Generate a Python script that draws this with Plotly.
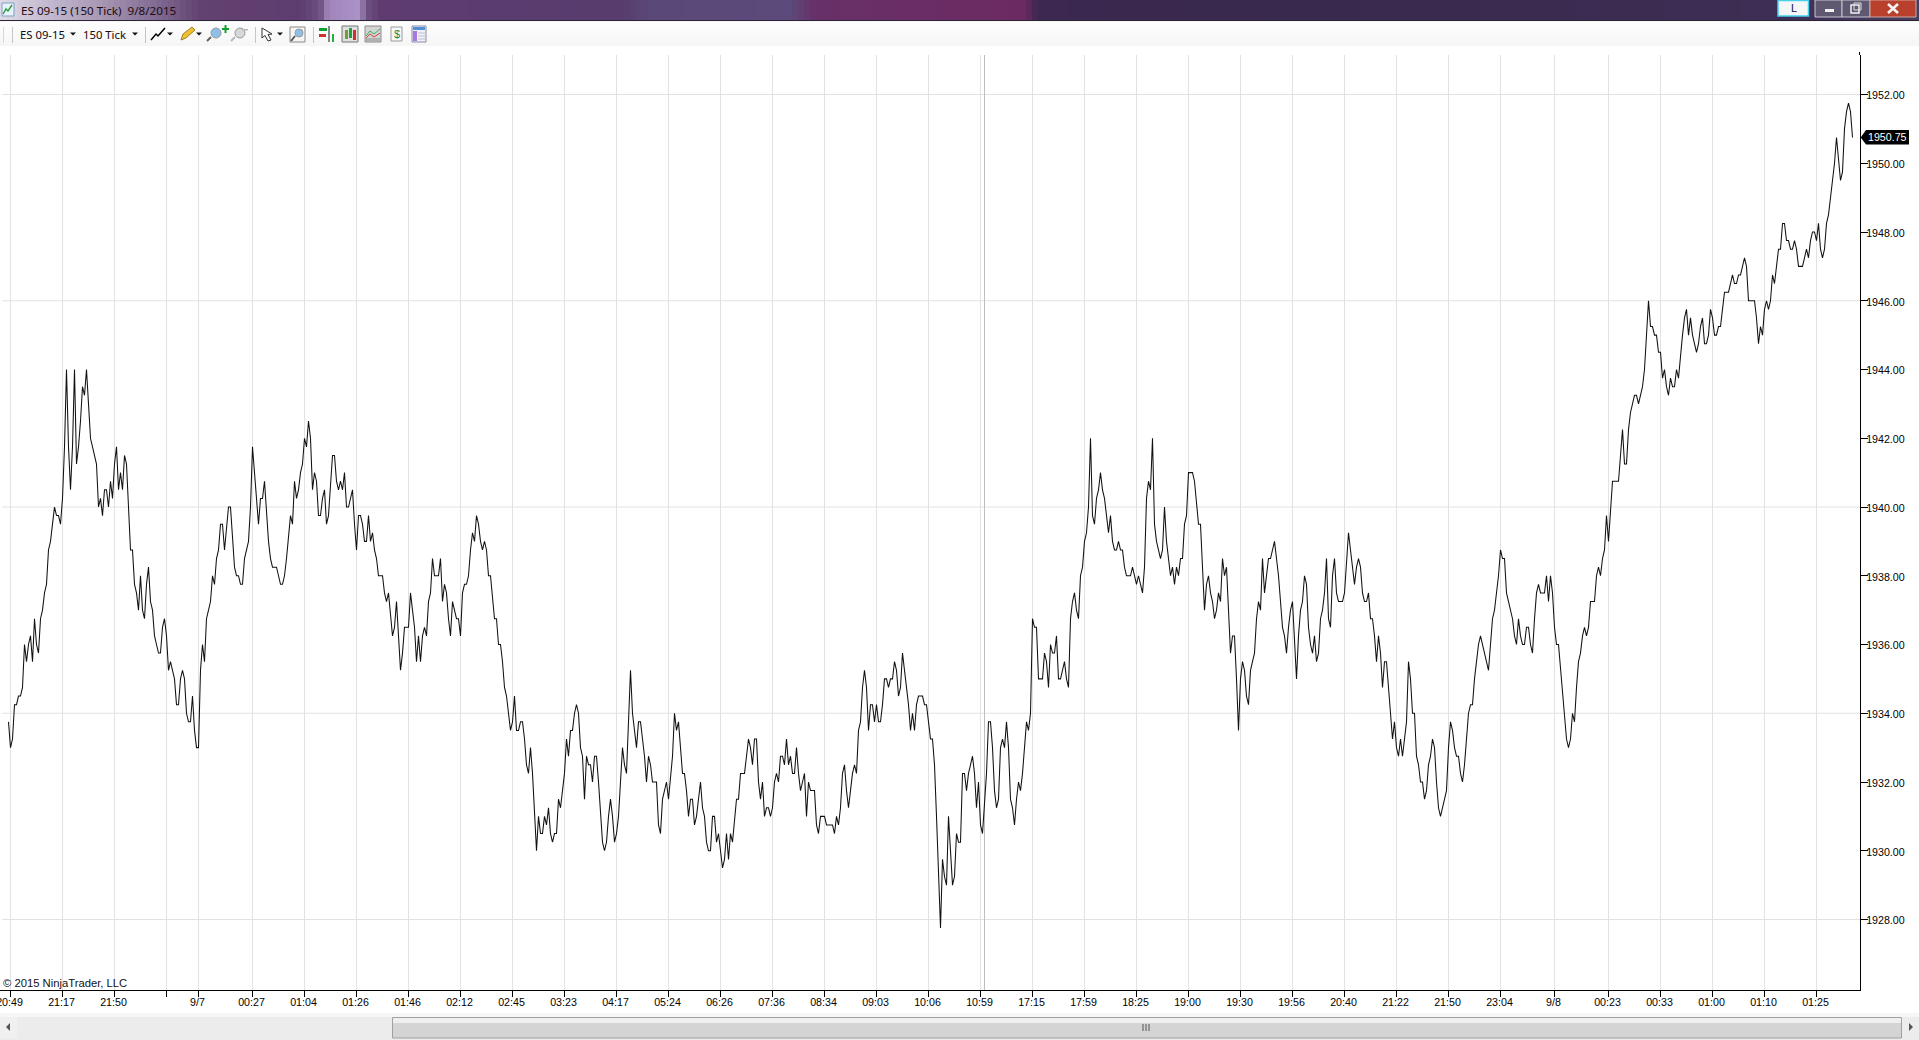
import plotly.graph_objects as go

# ---- Data (ES 09-15, 150 tick closes) ----
INSTRUMENT = "ES 09-15"
PERIOD = "150 Tick"
WINDOW_TITLE = "ES 09-15 (150 Tick)  9/8/2015"
COPYRIGHT = "© 2015 NinjaTrader, LLC"
LAST_PRICE = 1950.75

close_a = [
 1933.75,1933,1933.25,1934.25,1934.25,1934.5,1934.5,1934.75,1936,1935.5,1936,1936.25,1935.5,1936.75,1936,1935.75,
 1936.75,1937,1937.5,1937.75,1938.75,1939,1939.5,1940,1939.75,1939.75,1939.5,1940.25,1941.75,1944,1941.75,1940.5,
 1941.75,1944,1941.25,1941.75,1942.5,1943.5,1943.25,1944,1943,1942,1941.75,1941.5,1941.25,1940,1940.25,1939.75,
 1940.5,1940.5,1940,1940.75,1940.25,1941.25,1941.75,1940.5,1941,1940.5,1941.5,1941.25,1940,1938.75,1938.75,1937.75,
 1937.5,1937,1938,1937,1936.75,1937.75,1938.25,1937.25,1937,1936.25,1936,1935.75,1935.75,1936.5,1936.75,1936.25,
 1935.25,1935.5,1935.25,1935,1934.25,1934.25,1935,1935.25,1935,1934,1933.75,1933.75,1934.5,1933.5,1933,1933,
 1935.25,1936,1935.5,1936.75,1937,1937.25,1938,1937.75,1938.5,1938.75,1939.5,1939.5,1938.75,1939.5,1940,1940,
 1939.25,1938.25,1938,1938,1937.75,1937.75,1938.5,1938.75,1939,1940,1941.75,1941,1940.25,1939.5,1940.25,1940.25,
 1940.75,1939.75,1939,1938.5,1938.25,1938.25,1938.25,1938,1937.75,1937.75,1938,1938.5,1939.25,1939.75,1939.5,1940.75,
 1940.25,1940.5,1941,1941.25,1942,1941.75,1942.5,1942,1940.5,1941,1940.75,1939.75,1939.75,1940.25,1940.5,1939.5,
 1939.75,1940.75,1941.5,1941.5,1940.75,1940.5,1940.75,1940.5,1941,1940,1940,1940.25,1940.5,1939.5,1938.75,1939.75,
 1939.75,1939.5,1939,1939,1939.75,1939,1939.25,1938.75,1938.5,1938,1938,
]
close_b = [
 1938,1937.5,1937.25,1937.5,1936.75,1936.25,1936.5,1937.25,1936.25,1935.25,1935.75,1936.5,1936.5,1936.5,1937.5,1937,
 1936.5,1935.5,1936.25,1935.5,1936.25,1936.5,1936.25,1937.25,1937.5,1938.5,1938,1938,1938,1938.5,1937.25,1937.75,
 1937.5,1936.75,1936.25,1937.25,1937,1936.75,1936.75,1936.25,1937.5,1937.75,1937.75,1938,1938.75,1939.25,1939,1939.75,
 1939.5,1939,1938.75,1939,1938.75,1938,1938,1937.25,1936.75,1936.75,1936,1936,1935.5,1934.75,1934.5,1934,
 1933.5,1933.75,1934.5,1933.5,1933.5,1933.75,1933.75,1933.25,1932.5,1932.25,1933,1932.25,1931,1930,1931,1930.5,
 1930.5,1931,1930.75,1931.25,1930.5,1930.25,1930.5,1930.5,1931.5,1931.25,1931.75,1932.25,1933.25,1932.75,1933.5,1933.5,
 1934,1934.25,1934,1933,1932.75,1931.5,1932.75,1932.5,1932.5,1932,1932.75,1932.75,1932,1931,1930.25,1930,
 1930.25,1931,1931.5,1931,1930.25,1930.5,1931,1932,1933,1932.5,1932.25,1933.75,1935.25,1934,1933.5,1933,
 1933.75,1933.75,1933.25,1932.75,1932,1932.75,1932.5,1932,1932,1932,1930.75,1930.5,1931.5,1931.75,1932,1931.5,
 1932.25,1932.75,1934,1933.5,1933.75,1933,1932.25,1932.25,1931.75,1931,1931.5,1931.5,1930.75,1931,1931.5,1932,
 1931.25,1931,1930.25,1930,1930,1931,1931,1930.25,1930.5,1930,1929.5,1929.75,1930.5,1929.75,1930.5,1930.25,
 1931,1931.5,1931.5,1932.25,1932.25,1932.25,1932.75,1933.25,1933,1932.5,1933.25,1933.25,1932,
]
close_c = [
 1931.5,1932,1931,1931.25,1931.25,1931,1931.25,1932,1932.25,1932,1932.75,1932.75,1932.5,1933.25,1932.5,1932.75,
 1932.25,1932.25,1933,1932.25,1931.75,1932,1932.25,1931,1932,1931.75,1931.75,1931.75,1930.75,1930.5,1931,1931,
 1931,1930.75,1930.75,1930.75,1930.75,1930.5,1931,1930.75,1931.25,1932.25,1932.5,1931.75,1931.25,1931.75,1932.25,1932.5,
 1932.25,1933.5,1933.75,1934.75,1935.25,1934.75,1933.5,1934.25,1934.25,1933.75,1934.25,1933.75,1933.75,1934.25,1935,1935,
 1934.75,1935,1935,1935.5,1935.25,1934.5,1934.75,1935.75,1935.25,1934.75,1934.25,1933.5,1934,1933.5,1934.25,1934.5,
 1934.5,1934.5,1934.25,1934.25,1933.75,1933.25,1933.25,1932.5,1931,1929.25,1927.75,1929.75,1929.25,1929,1931,1930,
 1929,1929.25,1930.5,1930.25,1930.25,1932.25,1932.25,1931.75,1932.25,1932.5,1932.75,1932.25,1931.25,1932,1930.75,1930.5,
 1931.25,1932.25,1933.75,1933.75,1933,1931.75,1931.25,1931.5,1933,1933.25,1933,1933.75,1933,1931.5,1931.25,1930.75,
 1931.5,1932,1931.75,1932.25,1933,1933.75,1933.5,1934,1936.75,1936.5,1936.5,1935,1935,1935,1935.75,1935.5,
 1934.75,1936,1935.75,1935.75,1936.25,1935,1935,1935.25,1935.5,1935,1934.75,1936.75,
]
close_d = [
 1937.25,1937.5,1937,1936.75,1938,1938.25,1939,1939.25,1940,1942,1939.75,1939.5,1940.25,1940.5,1941,1940.5,
 1940.25,1939.75,1939.25,1939.75,1939,1938.75,1938.75,1939,1938.75,1938.75,1938.25,1938,1938,1938,1938.25,1938,
 1937.75,1938,1937.75,1937.5,1938.25,1940.25,1940.75,1940.5,1942,1939.5,1939,1938.75,1938.5,1938.75,1940,1939,
 1938.5,1938,1938.25,1937.75,1938.25,1938,1938.5,1938.5,1939.5,1939.75,1941,1941,1941,1940.75,1940,1939.5,
 1939.5,1938.25,1937,1937.75,1938,1937.5,1937.25,1936.75,1937,1937.5,1937.25,1938.5,1938,1938.25,1936.75,1935.75,
 1936.25,1936.25,1935,1933.5,1935,1935.5,1935.25,1934.5,1934.25,1935.25,1935.5,1935.75,1936.75,1937.25,1937,1938.5,
 1937.5,1938,1938.5,1938.5,1938.75,1939,1938.5,1938,1937.25,1936.5,1936.25,1935.75,1936.5,1937,1937.25,1936.25,
 1935,1936.25,1937,1937.25,1938,1937.75,1936.5,1936,1935.75,1936.25,1935.5,1935.75,1936.75,1937,1937.5,1938.5,
 1936.75,1936.5,1938,1938.5,1937.5,1937.25,1937.25,1937.25,1937.5,1938.5,1939.25,1938.75,1938.25,1937.75,1938.25,1938.5,
 1938.25,1937.5,1937.25,1937.25,1937.5,1936.75,1936.75,1936.25,1935.5,1936.25,1935.75,1934.75,1935.5,1935.5,1934.75,1934,
 1933.25,1933.75,1933,1932.75,1933.25,1932.75,1933.25,1933.75,1935.5,1935,1934,1934,1932.75,1932.5,1932,1932,
 1931.5,1931.75,1932.5,1932.75,1933.25,1933,1932,1931.25,1931,1931.25,1931.5,1931.75,1933,1933.75,1933.5,1933,
 1932.75,1932.75,
]
close_e = [
 1932.25,1932,1932.5,1933.25,1934,1934.25,1934.25,1935,1935.5,1936,1936.25,1936,1935.75,1935.5,1935.25,1936,
 1936.75,1937,1937.5,1938,1938.75,1938.5,1938.5,1937.5,1937.25,1937,1936.75,1936.25,1936,1936.75,1936.25,1936,
 1936,1936.5,1936.5,1936,1935.75,1936.75,1937.5,1937.75,1937.5,1937.5,1937.5,1938,1937.25,1938,1937.5,1936.5,
 1936,1936,1935.25,1934.5,1934,1933.25,1933,1933.25,1934,1933.75,1934.75,1935.5,1935.75,1936.25,1936.5,1936.25,
 1936.5,1937.25,1937.25,1937.25,1938,1938.25,1938,1938.5,1938.75,1939.75,1939,
]
close_f = [
 1939.75,1940.75,1940.75,1940.75,1940.75,1941.5,1942.25,1941.25,1941.25,1942.25,1942.75,1943,1943.25,1943.25,1943,1943.25,
 1943.5,1944,1945,1946,1945.25,1945.25,1945,1945,1944.5,1944.5,1943.75,1944,1943.5,1943.25,1943.75,1943.5,
 1943.5,1944,1943.75,1944.5,1945,1945.5,1945.75,1945,1945.5,1945,1944.75,1944.5,1944.75,1945.25,1945.5,1944.75,
 1944.75,1945,1945.75,1945.5,1945,1945,1945.25,1945.25,1945.75,1946.25,1946.25,1946.25,1946.5,1946.75,1946.5,1946.5,
 1946.75,1946.75,1947,1947.25,1947,1946,1946,1946,1946,1945.5,1944.75,1945.25,1945,1945.75,1946,1945.75,
 1946,1946.75,1946.5,1947,1947.5,1947.5,1948.25,1948.25,1947.75,1947.75,1947.5,1947.5,1947.75,1947.5,1947,1947,
 1947,1947.25,1947.5,1947.25,1947.75,1948,1948,1947.75,1948.25,1947.5,1947.25,1947.5,1948.25,1948.5,1949,1949.5,
 1950,1950.75,1950,1949.5,1949.75,1951,1951.5,1951.75,1951.5,1950.75,
]

tick_bars = [1,27,53,79,95,122,148,174,200,226,252,278,304,330,356,382,408,434,460,486,512,538,564,590,616,642,668,694,
             720,746,773,800,826,852,878,904]
tick_labels = ["20:49","21:17","21:50","","9/7","00:27","01:04","01:26","01:46","02:12","02:45","03:23","04:17","05:24",
               "06:26","07:36","08:34","09:03","10:06","10:59","17:15","17:59","18:25","19:00","19:30","19:56","20:40",
               "21:22","21:50","23:04","9/8","00:23","00:33","01:00","01:10","01:25"]
price_ticks = [1928,1930,1932,1934,1936,1938,1940,1942,1944,1946,1948,1950,1952]
price_grid = [1928,1934,1940,1946,1952]
cursor_bar = 488

close = close_a + close_b + close_c + close_d + close_e + close_f
bars = list(range(len(close)))

# ---- Page geometry helpers (window chrome only) ----
W, H = 1919, 1040
L, R, T, B = 0, 1860, 55, 990
def X(px): return (px - L) / (R - L)
def Y(py): return (B - py) / (B - T)

shapes, ann = [], []
def rect(x0, y0, x1, y1, fill, line=None, lw=1):
    shapes.append(dict(type="rect", xref="paper", yref="paper", x0=X(x0), y0=Y(y0), x1=X(x1), y1=Y(y1),
                       fillcolor=fill, line=dict(color=line or "rgba(0,0,0,0)", width=lw if line else 0), layer="above"))
def seg(x0, y0, x1, y1, color, w=1, layer="above"):
    shapes.append(dict(type="line", xref="paper", yref="paper", x0=X(x0), y0=Y(y0), x1=X(x1), y1=Y(y1),
                       line=dict(color=color, width=w), layer=layer))
def path(points, fill=None, line=None, lw=1, close_it=True):
    d = "M " + " L ".join(f"{X(a):.5f},{Y(b):.5f}" for a, b in points) + (" Z" if close_it else "")
    shapes.append(dict(type="path", xref="paper", yref="paper", path=d, fillcolor=fill or "rgba(0,0,0,0)",
                       line=dict(color=line or "rgba(0,0,0,0)", width=lw if line else 0), layer="above"))
def circle(x0, y0, x1, y1, fill, line=None, lw=1):
    shapes.append(dict(type="circle", xref="paper", yref="paper", x0=X(x0), y0=Y(y0), x1=X(x1), y1=Y(y1),
                       fillcolor=fill, line=dict(color=line or "rgba(0,0,0,0)", width=lw if line else 0), layer="above"))
def text(px, py, s, size=10.67, color="#111", anchor="left", family="Liberation Sans", **kw):
    ann.append(dict(xref="paper", yref="paper", x=X(px), y=Y(py), text=s, showarrow=False, xanchor=anchor,
                    yanchor="middle", font=dict(family=family, size=size, color=color), borderpad=0, borderwidth=0, **kw))
def caret(cx, cy):
    path([(cx-3, cy-1.5), (cx+3, cy-1.5), (cx, cy+1.5)], fill="#111")

# Price gridlines (every third labelled price)
for p in price_grid:
    shapes.append(dict(type="line", xref="paper", yref="y", x0=X(2), x1=1, y0=p, y1=p,
                       line=dict(color="#e2e2e2", width=1), layer="below"))
# vertical cursor line
shapes.append(dict(type="line", xref="x", yref="paper", x0=cursor_bar, x1=cursor_bar, y0=0, y1=1,
                   line=dict(color="#bdbdbd", width=1), layer="below"))

# Title bar: soft patches of Aero glass colour, stepped across the width
stops = [(0,(222,218,230)),(40,(200,190,212)),(100,(168,152,180)),(160,(126,104,144)),(200,(98,66,112)),
         (300,(94,60,112)),(320,(110,80,130)),(328,(160,132,186)),(358,(170,146,198)),(368,(110,80,130)),
         (380,(94,60,114)),(620,(88,60,110)),(650,(90,72,120)),(790,(92,74,124)),(815,(104,48,104)),
         (1025,(108,42,98)),(1038,(60,40,80)),(1300,(56,41,78)),(1780,(60,46,84)),(1919,(72,62,96))]
def mix(px):
    for (a, ca), (b, cb) in zip(stops, stops[1:]):
        if a <= px <= b:
            t = (px - a) / (b - a)
            return "rgb(%d,%d,%d)" % tuple(round(u + (v - u) * t) for u, v in zip(ca, cb))
    return "rgb(72,62,96)"
step = 6
for px in range(0, W, step):
    rect(px, 0, px + step, 20, mix(px + step / 2))
rect(0, 20, W, 21, "#2e2438")
rect(0, 21, W, 22, "#f4f4f4")
# toolbar gradient
for i, c in enumerate(["#fdfdfd","#fcfcfc","#fbfbfb","#fafafa","#f9f9f9","#f8f8f8","#f7f7f7","#f6f6f6"]):
    rect(0, 22+3*i, W, 25+3*i, c)
rect(0, 46, W, 55, "#ffffff")

# window icon
rect(2, 3, 14, 16, "#e8f2fa", "#7da3c2")
path([(3,14),(6,9),(8,11),(12,5)], line="#2a9a3a", lw=1.4, close_it=False)
text(21, 10.5, WINDOW_TITLE, size=11.65, color="#1c0c10", family="Noto Sans")

# window buttons
rect(1778, 0.5, 1808.5, 16, "#f4f6f8", "#46d0ee", 1.5)
text(1793.5, 8.5, "L", size=11, color="#12124a", anchor="center")
rect(1815, 0, 1842, 17, "#5e5870", "#c8c4d0", 1)
rect(1842, 0, 1870, 17, "#5e5870", "#c8c4d0", 1)
rect(1870, 0, 1916, 17, "#b8402c", "#d0a8a0", 1)
rect(1825, 9, 1834, 12, "#f0f0f0")
rect(1851, 5, 1859, 13, "rgba(0,0,0,0)", "#f0f0f0", 1.5)
rect(1854, 3, 1861, 10, "rgba(0,0,0,0)", "#e0e0e0", 1)
seg(1888, 4, 1898, 13, "#f4f4f4", 2.6)
seg(1898, 4, 1888, 13, "#f4f4f4", 2.6)

# toolbar
for sx in (3.5, 12.5, 145.5, 255.5, 313.5):
    seg(sx, 27, sx, 43, "#c6c6c6" if sx > 4 else "#d8d8d8")
text(20, 34, INSTRUMENT, size=11.3, color="#0b0b20", family="Noto Sans")
caret(73, 34)
text(83, 34, PERIOD, size=11.3, color="#200808", family="Noto Sans")
caret(135, 34)
# line-chart icon
path([(151,40),(156,34),(158,36),(165,28)], line="#000", lw=1.5, close_it=False); caret(170, 34)
# pencil
path([(181,40),(183,34),(192,27),(195,30),(186,38)], fill="#f0c030", line="#8a6a10", lw=0.8); caret(199, 34)
# zoom in / out
for cx, body, stick in ((216, "#8cc0e8", "#606060"), (240, "#d8d8d8", "#b8b8b8")):
    circle(cx-5, 28, cx+5, 38, body, "#9a9a9a")
    seg(cx-5, 37, cx-9, 41, stick, 2)
rect(222, 28, 229, 30, "#10a030"); rect(224.5, 25, 226.5, 33, "#10a030")
rect(242, 29, 248, 30.5, "#b8b8b8")
# pointer
path([(262,28),(262,38),(265,35.5),(268,41),(271,40),(268,34.5),(272,34)], fill="#ffffff", line="#333", lw=1); caret(280, 34)
# magnifier in a box
rect(290, 27, 305, 42, "#f4f4f4", "#8a8a8a")
circle(295, 29, 303, 37, "#8cc0e8", "#9a9a9a"); seg(295, 36, 291, 41, "#555", 2)
# bars icon
rect(319, 28, 327, 31, "#10a030"); rect(319, 34, 326, 37, "#d03030")
rect(328, 26, 330, 42, "#888"); rect(332, 34, 334, 42, "#20b040")
# candle icon
rect(342, 26, 358, 42, "#e0e0e0", "#777")
rect(345, 30, 348, 39, "#70a030"); rect(349, 28, 352, 38, "#20a040"); rect(353, 30, 356, 40, "#d03030")
# area icon
rect(365, 26, 381, 42, "#d4d4d4", "#8a8a8a")
path([(366,36),(370,31),(374,34),(380,29)], line="#30b060", lw=1, close_it=False)
path([(366,38),(370,34),(374,37),(380,33)], line="#d04040", lw=1, close_it=False)
rect(366, 38, 380, 41, "#b0b0b0")
# $ document
rect(391, 27, 402, 41, "#f8f8f8", "#9a9a9a")
text(396.5, 34.5, "$", size=11, color="#109050", anchor="center", family="Liberation Sans")
# table
rect(412, 26, 426, 42, "#f0f0f6", "#8a8aa8")
rect(413, 27, 425, 30, "#5090d8"); rect(413, 31, 417, 41, "#a878e0")
for yy in (33, 36, 39):
    seg(418, yy, 425, yy, "#c0c0d0")

# horizontal scrollbar
rect(0, 1013, W, 1017, "#f6f6f6")
rect(0, 1017, W, 1040, "#ececec")
rect(0, 1017, 17, 1038, "#f0f0f0")
path([(10,1023),(10,1031),(6,1027)], fill="#555")
path([(1909,1023),(1909,1031),(1913,1027)], fill="#555")
rect(392.5, 1017.5, 1901.5, 1038, "#d4d4d4", "#a0a0a0")
rect(393, 1018, 1901, 1023, "#efefef")
for gx in (1143, 1146, 1149):
    seg(gx, 1024, gx, 1031, "#555")

# Axis extension above the plotting area
seg(1859.5, 52, 1859.5, 55, "#000")

# Last-price marker
path([(1860.7, 137.5), (1866, 130), (1909, 130), (1909, 144.5), (1866, 144.5)], fill="#000")
ann.append(dict(xref="paper", yref="y", x=X(1887.5), y=LAST_PRICE, text=f"{LAST_PRICE:.2f}", showarrow=False,
                xanchor="center", yanchor="middle", font=dict(family="Liberation Sans", size=10.67, color="#fff")))
# copyright
text(3, 983, COPYRIGHT, size=11.25, color="#111")

fig = go.Figure(go.Scatter(x=bars, y=close, mode="lines", hoverinfo="skip",
                           line=dict(color="#111111", width=1.05)))
fig.update_layout(
    width=W, height=H, margin=dict(l=L, r=W-R, t=T, b=H-B, pad=0, autoexpand=False),
    paper_bgcolor="#ffffff", plot_bgcolor="#ffffff", showlegend=False,
    shapes=shapes, annotations=ann,
    font=dict(family="Liberation Sans", size=10.67, color="#000"),
    xaxis=dict(range=[-4.25, 925.75], tickmode="array", tickvals=tick_bars, ticktext=tick_labels,
               showgrid=True, gridcolor="#e2e2e2", gridwidth=1, zeroline=False,
               showline=True, linecolor="#000", linewidth=1, ticks="outside", ticklen=6, tickcolor="#000", tickwidth=1,
               tickangle=0, ticklabeloverflow="allow", automargin=False, ticklabelshift=-1, ticklabelstandoff=-4,
               tickfont=dict(size=10.67, color="#000")),
    yaxis=dict(side="right", range=[1925.949, 1953.149], tickmode="array", tickvals=price_ticks,
               ticktext=[f"{p:.2f}" for p in price_ticks], showgrid=False, zeroline=False,
               showline=True, linecolor="#000", linewidth=1, ticks="outside", ticklen=7, tickcolor="#000", tickwidth=1,
               automargin=False, ticklabelstandoff=-4, ticklabelshift=1, tickfont=dict(size=10.67, color="#000")),
)
fig.write_html("out.html", config=dict(displayModeBar=False),
               post_script="document.body.style.margin='0';document.body.style.overflow='hidden';")
